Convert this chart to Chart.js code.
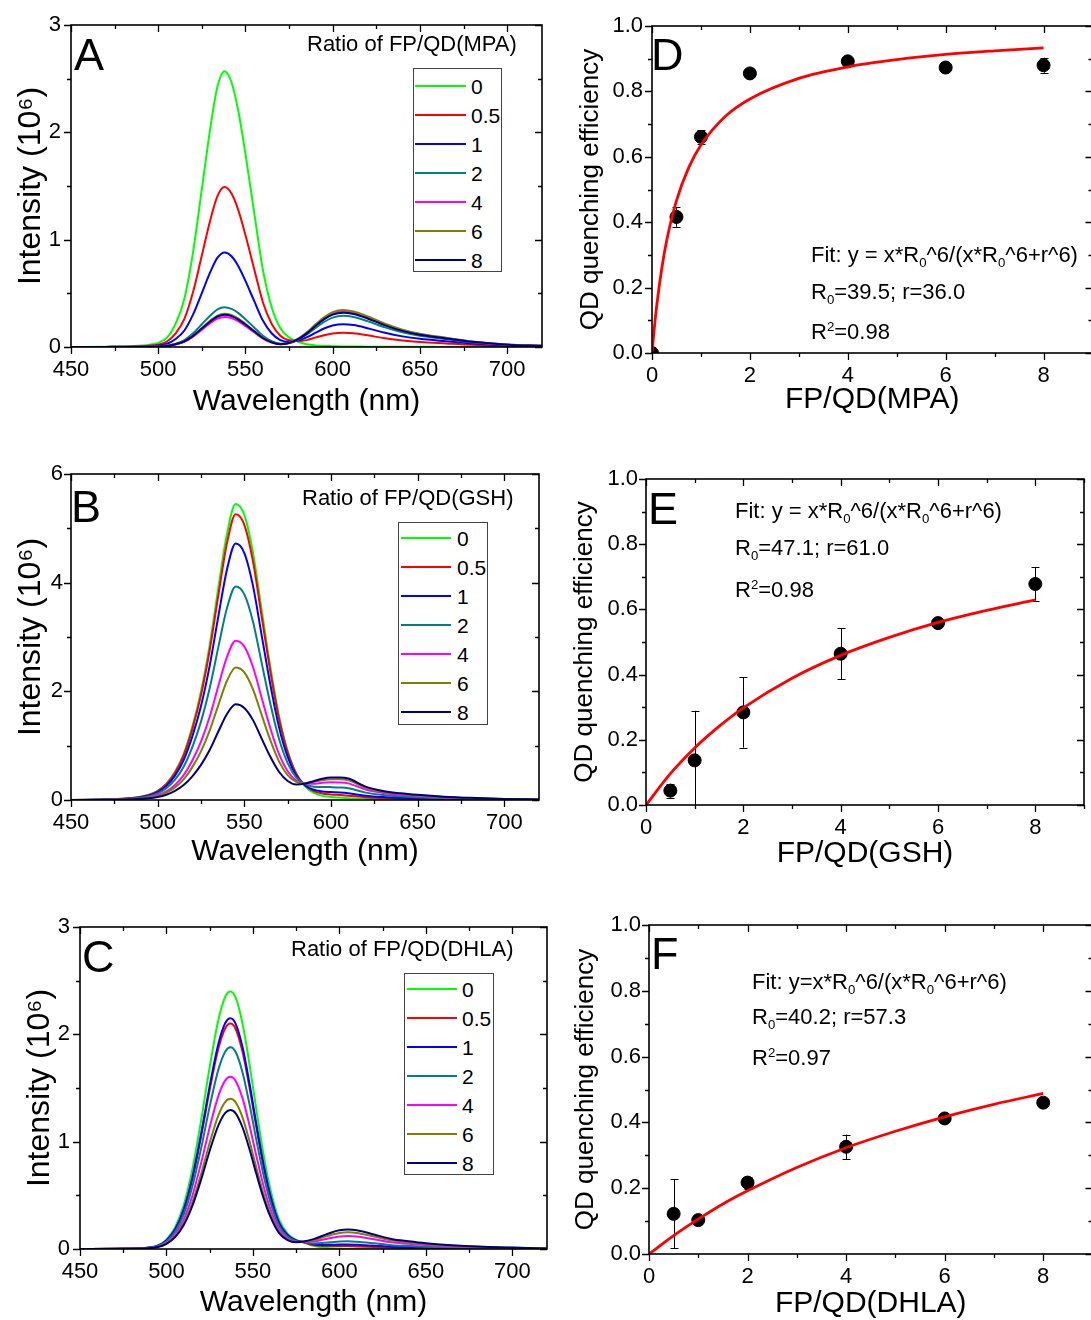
<!DOCTYPE html>
<html><head><meta charset="utf-8">
<script src="https://cdn.jsdelivr.net/npm/chart.js@4.4.1/dist/chart.umd.min.js"></script>
<style>
html,body{margin:0;padding:0;width:1091px;height:1320px;overflow:hidden;background:#fff;font-family:"Liberation Sans",Arial,sans-serif;}
canvas{position:absolute;}
.t{position:absolute;white-space:nowrap;color:#000;line-height:1;font-size:22px;}
.big{font-size:45px;}
.legend{position:absolute;border:1px solid #444;box-sizing:border-box;background:#fff;}
.row{display:flex;align-items:center;height:29px;}
.ln{height:0;border-top:2.5px solid;}
.lb{font-size:21px;line-height:1;}
sub{font-size:0.6em;vertical-align:-0.4em;line-height:0;}
sup{font-size:0.6em;vertical-align:0.6em;line-height:0;}
</style></head><body>
<canvas id="cA" width="560" height="425" style="left:0;top:0"></canvas>
<canvas id="cB" width="560" height="425" style="left:0;top:450px"></canvas>
<canvas id="cC" width="560" height="420" style="left:0;top:900px"></canvas>
<canvas id="cD" width="540" height="425" style="left:560px;top:0"></canvas>
<canvas id="cE" width="540" height="425" style="left:560px;top:450px"></canvas>
<canvas id="cF" width="540" height="420" style="left:560px;top:900px"></canvas>

<div class="t big" style="left:74px;top:32px">A</div>
<div class="t big" style="left:71px;top:484px">B</div>
<div class="t big" style="left:82px;top:934px">C</div>
<div class="t big" style="left:651px;top:32px">D</div>
<div class="t big" style="left:648px;top:486px">E</div>
<div class="t big" style="left:651px;top:931px">F</div>

<div class="t" style="left:307px;top:33px">Ratio of FP/QD(MPA)</div>
<div class="t" style="left:302px;top:487px">Ratio of FP/QD(GSH)</div>
<div class="t" style="left:291px;top:938px">Ratio of FP/QD(DHLA)</div>

<div class="t" style="left:811px;top:244px">Fit: y = x*R<sub>0</sub>^6/(x*R<sub>0</sub>^6+r^6)</div>
<div class="t" style="left:811px;top:281px">R<sub>0</sub>=39.5; r=36.0</div>
<div class="t" style="left:811px;top:321px">R<sup>2</sup>=0.98</div>

<div class="t" style="left:735px;top:500px">Fit: y = x*R<sub>0</sub>^6/(x*R<sub>0</sub>^6+r^6)</div>
<div class="t" style="left:735px;top:537px">R<sub>0</sub>=47.1; r=61.0</div>
<div class="t" style="left:735px;top:579px">R<sup>2</sup>=0.98</div>

<div class="t" style="left:752px;top:971px">Fit: y=x*R<sub>0</sub>^6/(x*R<sub>0</sub>^6+r^6)</div>
<div class="t" style="left:752px;top:1006px">R<sub>0</sub>=40.2; r=57.3</div>
<div class="t" style="left:752px;top:1047px">R<sup>2</sup>=0.97</div>

<script>
// ---------- data ----------
const ratioLabels = ['0', '0.5', '1', '2', '4', '6', '8'];
const lineColors = ['#00ff00', '#ff0000', '#0000ff', '#008080', '#ff00ff', '#808000', '#000080'];

// Panel A: QD(MPA) spectra
const wlA = [450,470,485,495,500,505,510,515,520,525,530,534,538,542,546,550,555,560,565,570,575,580,585,590,595,600,606,612,620,630,640,650,665,680,700,720];
const mpa0  = [0,0.003,0.008,0.021,0.039,0.087,0.218,0.45,0.887,1.47,2.056,2.429,2.57,2.467,2.192,1.799,1.254,0.72,0.373,0.175,0.09,0.051,0.026,0.015,0.01,0.008,0.005,0.005,0.003,0.003,0.002,0.002,0.001,0.001,0,0];
const mpa05 = [0,0.001,0.004,0.012,0.022,0.051,0.127,0.261,0.514,0.852,1.192,1.408,1.49,1.43,1.271,1.043,0.727,0.417,0.216,0.104,0.062,0.056,0.064,0.087,0.11,0.126,0.133,0.128,0.109,0.082,0.061,0.047,0.033,0.02,0.009,0.005];
const mpa1  = [0,0.001,0.003,0.007,0.013,0.03,0.075,0.154,0.304,0.503,0.704,0.832,0.88,0.845,0.751,0.616,0.429,0.246,0.128,0.064,0.048,0.06,0.089,0.131,0.172,0.2,0.212,0.204,0.175,0.132,0.099,0.076,0.053,0.032,0.015,0.007];
const mpa2  = [0,0,0.001,0.003,0.006,0.013,0.031,0.065,0.128,0.212,0.296,0.35,0.37,0.355,0.316,0.259,0.181,0.104,0.054,0.031,0.036,0.065,0.114,0.176,0.233,0.274,0.29,0.279,0.241,0.183,0.136,0.104,0.073,0.044,0.02,0.01];
const mpa4  = [0,0,0.001,0.002,0.004,0.01,0.024,0.049,0.097,0.16,0.224,0.265,0.28,0.269,0.239,0.196,0.137,0.078,0.041,0.026,0.036,0.072,0.128,0.2,0.265,0.311,0.33,0.317,0.274,0.208,0.155,0.119,0.083,0.05,0.023,0.012];
const mpa6  = [0,0,0.001,0.002,0.005,0.011,0.026,0.054,0.107,0.177,0.248,0.293,0.31,0.298,0.264,0.217,0.151,0.087,0.045,0.028,0.039,0.075,0.134,0.209,0.277,0.325,0.345,0.331,0.286,0.217,0.162,0.124,0.086,0.052,0.024,0.012];
const mpa8  = [0,0,0.001,0.002,0.005,0.01,0.026,0.053,0.104,0.172,0.24,0.284,0.3,0.288,0.256,0.21,0.146,0.084,0.044,0.026,0.037,0.07,0.125,0.194,0.257,0.302,0.32,0.307,0.266,0.202,0.15,0.115,0.08,0.048,0.022,0.011];

// Panel B: QD(GSH) spectra
const wlB = [450,470,485,495,500,505,510,515,520,525,530,535,540,545,550,555,560,565,570,575,580,585,590,595,600,605,610,620,630,640,650,665,680,700,720];
const gsh0  = [0,0.011,0.038,0.098,0.169,0.3,0.518,0.85,1.352,2.0,2.85,3.902,4.9,5.45,5.248,4.551,3.499,2.453,1.548,0.899,0.48,0.251,0.131,0.076,0.055,0.044,0.033,0.022,0.016,0.011,0.008,0.005,0.002,0.001,0];
const gsh05 = [0,0.011,0.037,0.095,0.163,0.289,0.5,0.821,1.304,1.93,2.751,3.766,4.729,5.26,5.065,4.392,3.377,2.368,1.497,0.876,0.48,0.27,0.164,0.12,0.103,0.092,0.08,0.051,0.036,0.026,0.02,0.013,0.005,0.003,0.001];
const gsh1  = [0,0.009,0.033,0.085,0.146,0.26,0.448,0.736,1.171,1.732,2.469,3.38,4.243,4.72,4.545,3.941,3.03,2.125,1.345,0.794,0.448,0.272,0.189,0.158,0.146,0.138,0.124,0.079,0.054,0.039,0.03,0.02,0.01,0.005,0.003];
const gsh2  = [0,0.008,0.028,0.071,0.122,0.216,0.373,0.613,0.975,1.442,2.055,2.814,3.533,3.93,3.785,3.282,2.523,1.771,1.126,0.678,0.412,0.291,0.246,0.239,0.237,0.231,0.216,0.136,0.092,0.068,0.052,0.034,0.02,0.01,0.005];
const gsh4  = [0,0.006,0.021,0.053,0.091,0.161,0.278,0.457,0.727,1.075,1.532,2.098,2.634,2.93,2.822,2.447,1.881,1.322,0.847,0.528,0.357,0.3,0.298,0.317,0.326,0.323,0.306,0.192,0.129,0.096,0.073,0.048,0.03,0.015,0.008];
const gsh6  = [0,0.005,0.017,0.044,0.076,0.134,0.232,0.381,0.605,0.895,1.276,1.747,2.194,2.44,2.35,2.037,1.566,1.102,0.711,0.457,0.334,0.31,0.333,0.365,0.38,0.38,0.361,0.226,0.151,0.113,0.087,0.056,0.036,0.018,0.009];
const gsh8  = [0,0.004,0.012,0.032,0.055,0.097,0.167,0.275,0.436,0.646,0.92,1.26,1.582,1.76,1.695,1.47,1.13,0.796,0.52,0.35,0.287,0.301,0.346,0.393,0.414,0.414,0.395,0.247,0.165,0.124,0.095,0.062,0.04,0.02,0.01];

// Panel C: QD(DHLA) spectra
const wlC = [450,470,485,495,500,505,510,515,520,525,530,534,537,540,544,548,552,556,560,565,570,575,580,585,590,595,600,605,610,620,630,640,650,665,680,700,720];
const dhla0  = [0,0.002,0.007,0.034,0.089,0.204,0.413,0.746,1.195,1.697,2.134,2.35,2.4,2.342,2.098,1.721,1.294,0.89,0.562,0.278,0.144,0.084,0.06,0.029,0.014,0.007,0.005,0.002,0,0,0,0,0,0,0,0,0];
const dhla05 = [0,0.002,0.006,0.029,0.078,0.179,0.361,0.653,1.046,1.485,1.867,2.056,2.1,2.05,1.835,1.506,1.132,0.779,0.491,0.244,0.127,0.077,0.059,0.036,0.029,0.027,0.028,0.027,0.024,0.019,0.013,0.01,0.008,0.005,0.003,0.002,0.001];
const dhla1  = [0,0.002,0.006,0.03,0.08,0.183,0.37,0.669,1.071,1.52,1.911,2.105,2.15,2.098,1.879,1.542,1.159,0.798,0.503,0.249,0.13,0.079,0.063,0.043,0.038,0.039,0.042,0.042,0.039,0.03,0.021,0.016,0.012,0.008,0.005,0.003,0.001];
const dhla2  = [0,0.002,0.006,0.026,0.07,0.16,0.323,0.585,0.936,1.329,1.671,1.841,1.88,1.835,1.643,1.348,1.013,0.697,0.44,0.218,0.115,0.073,0.062,0.052,0.055,0.063,0.071,0.072,0.068,0.053,0.036,0.028,0.021,0.014,0.009,0.005,0.002];
const dhla4  = [0,0.002,0.005,0.022,0.059,0.136,0.276,0.499,0.799,1.135,1.427,1.571,1.605,1.566,1.403,1.151,0.865,0.595,0.376,0.186,0.1,0.068,0.066,0.069,0.086,0.103,0.117,0.122,0.116,0.09,0.062,0.048,0.036,0.024,0.016,0.008,0.004];
const dhla6  = [0,0.001,0.004,0.02,0.052,0.119,0.241,0.435,0.697,0.99,1.245,1.371,1.4,1.366,1.224,1.004,0.755,0.519,0.328,0.162,0.089,0.065,0.069,0.082,0.106,0.131,0.15,0.156,0.15,0.116,0.081,0.062,0.047,0.031,0.02,0.011,0.005];
const dhla8  = [0,0.001,0.004,0.018,0.048,0.11,0.223,0.403,0.645,0.916,1.151,1.268,1.295,1.264,1.132,0.929,0.698,0.48,0.303,0.15,0.083,0.063,0.072,0.092,0.121,0.152,0.174,0.181,0.175,0.135,0.094,0.072,0.054,0.036,0.023,0.013,0.005];

// Panels D-F: quenching efficiency vs FP/QD ratio
const mpaRatio = [0, 0.5, 1, 2, 4, 6, 8];
const mpaEff   = [0, 0.416, 0.661, 0.855, 0.892, 0.873, 0.880];
const mpaErr   = [0, 0.030, 0.021, 0, 0, 0, 0.023];
const mpaFitX  = [0, 0.05, 0.1, 0.2, 0.3, 0.5, 0.75, 1, 1.5, 2, 3, 4, 5, 6, 7, 8];
const mpaFitY  = [0, 0.08, 0.149, 0.259, 0.344, 0.466, 0.567, 0.636, 0.724, 0.777, 0.84, 0.875, 0.897, 0.913, 0.924, 0.933];

const gshRatio = [0.5, 1, 2, 4, 6, 8];
const gshEff   = [0.044, 0.137, 0.284, 0.464, 0.558, 0.678];
const gshErr   = [0.021, 0.152, 0.108, 0.079, 0.005, 0.051];
const gshFitX  = [0, 0.5, 1, 1.5, 2, 3, 4, 5, 6, 7, 8];
const gshFitY  = [0, 0.096, 0.175, 0.241, 0.298, 0.389, 0.459, 0.514, 0.56, 0.597, 0.629];

const dhlaRatio = [0.5, 1, 2, 4, 6, 8];
const dhlaEff   = [0.122, 0.103, 0.217, 0.326, 0.412, 0.46];
const dhlaErr   = [0.105, 0.008, 0.018, 0.037, 0.006, 0.006];
const dhlaFitX  = [0, 0.5, 1, 1.5, 2, 3, 4, 5, 6, 7, 8];
const dhlaFitY  = [0, 0.056, 0.106, 0.152, 0.192, 0.263, 0.323, 0.373, 0.417, 0.455, 0.488];

// ---------- rendering ----------
Chart.defaults.font.family = '"Liberation Sans", Arial, sans-serif';
Chart.defaults.color = '#000';

const framePlugin = {
  id: 'frame',
  afterDatasetsDraw(chart, args, o) {
    const {ctx, chartArea: a, scales: {x, y}} = chart;
    ctx.save();
    ctx.strokeStyle = '#000';
    ctx.lineWidth = 1.3;
    ctx.beginPath();
    const nx = Math.floor((x.max - x.min) / o.xMinor + 1e-6);
    for (let i = 0; i <= nx; i++) {
      const v = x.min + i * o.xMinor;
      const r = v / o.xMajor;
      const L = Math.abs(r - Math.round(r)) < 1e-6 ? 7 : 4;
      const p = Math.round(x.getPixelForValue(v)) + 0.5;
      ctx.moveTo(p, a.bottom); ctx.lineTo(p, a.bottom + L);
      ctx.moveTo(p, a.top); ctx.lineTo(p, a.top + L);
    }
    const ny = Math.floor((y.max - y.min) / o.yMinor + 1e-6);
    for (let i = 0; i <= ny; i++) {
      const v = y.min + i * o.yMinor;
      const r = v / o.yMajor;
      const L = Math.abs(r - Math.round(r)) < 1e-6 ? 7 : 4;
      const p = Math.round(y.getPixelForValue(v)) + 0.5;
      ctx.moveTo(a.left, p); ctx.lineTo(a.left - L, p);
      ctx.moveTo(a.right, p); ctx.lineTo(a.right - L, p);
    }
    ctx.stroke();
    ctx.lineWidth = 1.6;
    ctx.strokeRect(a.left, a.top, a.right - a.left, a.bottom - a.top);
    ctx.restore();
  }
};

const errPlugin = {
  id: 'errbars',
  beforeDatasetsDraw(chart, args, o) {
    if (!o || !o.x) return;
    const {ctx, chartArea: a, scales: {x, y}} = chart;
    ctx.save();
    ctx.beginPath();
    ctx.rect(a.left, a.top, a.right - a.left, a.bottom - a.top);
    ctx.clip();
    ctx.strokeStyle = '#000';
    ctx.lineWidth = 1;
    ctx.beginPath();
    o.x.forEach((xv, i) => {
      const e = o.err[i];
      if (!e) return;
      const px = Math.round(x.getPixelForValue(xv)) + 0.5;
      const y1 = y.getPixelForValue(o.y[i] + e), y2 = y.getPixelForValue(o.y[i] - e);
      ctx.moveTo(px, y1); ctx.lineTo(px, y2);
      ctx.moveTo(px - 4, Math.round(y1) + 0.5); ctx.lineTo(px + 4, Math.round(y1) + 0.5);
      ctx.moveTo(px - 4, Math.round(y2) + 0.5); ctx.lineTo(px + 4, Math.round(y2) + 0.5);
    });
    ctx.stroke();
    ctx.restore();
  }
};

function xy(xs, ys) { return xs.map((v, i) => ({x: v, y: ys[i]})); }

function baseOptions(g, xs, ys) {
  return {
    responsive: false, animation: false, events: [],
    layout: {padding: {top: g.padTop, right: g.padRight, left: 0, bottom: 0}},
    plugins: {legend: {display: false}, tooltip: {enabled: false},
      frame: g.frame, errbars: g.err || {}},
    scales: {
      x: Object.assign({type: 'linear', position: 'bottom',
        grid: {display: false, drawTicks: false}, border: {display: false},
        title: {display: true, text: g.xTitle, font: {size: 30, lineHeight: 1}, padding: {top: 0, bottom: g.xTitlePad}},
        afterFit: s => { s.height = g.xH; s.paddingLeft = 0; s.paddingRight = 0; }}, xs),
      y: Object.assign({type: 'linear', position: 'left',
        grid: {display: false, drawTicks: false}, border: {display: false},
        title: {display: true, text: g.yTitle, font: {size: g.yTitleSize, lineHeight: 1}, padding: {top: g.yTitlePad, bottom: 0}},
        afterFit: s => { s.width = g.yW; s.paddingTop = 0; s.paddingBottom = 0; }}, ys)
    }
  };
}

function spectra(id, wl, series, yMax, yStep, yMinor, g) {
  const datasets = series.map((s, i) => ({
    label: ratioLabels[i], data: xy(wl, s), borderColor: lineColors[i],
    borderWidth: 2, pointRadius: 0, cubicInterpolationMode: 'monotone',
    fill: false, order: series.length - i
  }));
  g.xTitle = 'Wavelength (nm)';
  g.yTitle = 'Intensity (10\u2076)';
  g.yTitleSize = 32;
  g.frame = {xMajor: 50, xMinor: 25, yMajor: yStep, yMinor: yMinor};
  const opts = baseOptions(g,
    {min: 450, max: 720, ticks: {stepSize: 50, includeBounds: false, padding: 10, font: {size: 22}, callback: v => String(v)}},
    {min: 0, max: yMax, ticks: {stepSize: yStep, includeBounds: false, padding: g.yTickPad, font: {size: 22}, callback: v => String(v)}});
  new Chart(document.getElementById(id), {type: 'line', data: {datasets}, options: opts, plugins: [framePlugin]});
}

function quench(id, rx, eff, err, fx, fy, xTitle, g) {
  g.xTitle = xTitle;
  g.yTitle = 'QD quenching efficiency';
  g.yTitleSize = 26;
  g.frame = {xMajor: 2, xMinor: 1, yMajor: 0.2, yMinor: 0.1};
  g.err = {x: rx, y: eff, err: err};
  const opts = baseOptions(g,
    {min: 0, max: 9, ticks: {stepSize: 2, includeBounds: false, padding: 10, font: {size: 22}, callback: v => String(v)}},
    {min: 0, max: 1, ticks: {stepSize: 0.2, includeBounds: false, padding: g.yTickPad, font: {size: 22}, callback: v => v.toFixed(1)}});
  const datasets = [
    {type: 'line', label: 'fit', data: xy(fx, fy), borderColor: '#ff0000', borderWidth: 2.8,
     pointRadius: 0, cubicInterpolationMode: 'monotone', fill: false, order: 0, clip: 0},
    {type: 'scatter', label: 'data', data: xy(rx, eff), backgroundColor: '#000', borderColor: '#000',
     pointRadius: 6.5, pointHoverRadius: 6.5, order: 1, clip: 0}
  ];
  new Chart(document.getElementById(id), {type: 'scatter', data: {datasets}, options: opts, plugins: [framePlugin, errPlugin]});
}

spectra('cA', wlA, [mpa0, mpa05, mpa1, mpa2, mpa4, mpa6, mpa8], 3, 1, 0.5,
  {yW: 71, padTop: 25, padRight: 18, xH: 78, xTitlePad: 8, yTitlePad: 15, yTickPad: 10});
spectra('cB', wlB, [gsh0, gsh05, gsh1, gsh2, gsh4, gsh6, gsh8], 6, 2, 1,
  {yW: 71, padTop: 24, padRight: 21, xH: 75, xTitlePad: 8, yTitlePad: 15, yTickPad: 8});
spectra('cC', wlC, [dhla0, dhla05, dhla1, dhla2, dhla4, dhla6, dhla8], 3, 1, 0.5,
  {yW: 80, padTop: 27, padRight: 13, xH: 71, xTitlePad: 2, yTitlePad: 24, yTickPad: 10});

quench('cD', mpaRatio, mpaEff, mpaErr, mpaFitX, mpaFitY, 'FP/QD(MPA)',
  {yW: 92, padTop: 26, padRight: 7, xH: 72, xTitlePad: 10, yTitlePad: 18, yTickPad: 9});
quench('cE', gshRatio, gshEff, gshErr, gshFitX, gshFitY, 'FP/QD(GSH)',
  {yW: 86, padTop: 29, padRight: 16, xH: 70, xTitlePad: 6, yTitlePad: 12, yTickPad: 8});
quench('cF', dhlaRatio, dhlaEff, dhlaErr, dhlaFitX, dhlaFitY, 'FP/QD(DHLA)',
  {yW: 89, padTop: 25, padRight: 1, xH: 66, xTitlePad: 1, yTitlePad: 13, yTickPad: 8});

// legends (HTML, built from the series labels/colours)
function legend(box) {
  const d = document.createElement('div');
  d.className = 'legend';
  d.style.cssText = `left:${box.l}px;top:${box.t}px;width:${box.w}px;height:${box.h}px;padding-top:${box.pt}px`;
  ratioLabels.forEach((lab, i) => {
    const r = document.createElement('div'); r.className = 'row';
    const ln = document.createElement('div'); ln.className = 'ln';
    ln.style.cssText = `border-color:${lineColors[i]};width:${box.lw}px;margin-left:${box.lm}px`;
    const lb = document.createElement('div'); lb.className = 'lb'; lb.textContent = lab;
    lb.style.marginLeft = box.gap + 'px';
    r.appendChild(ln); r.appendChild(lb); d.appendChild(r);
  });
  document.body.appendChild(d);
}
legend({l: 412.5, t: 68, w: 89, h: 204, pt: 2.5, lw: 51, lm: 1.5, gap: 5});
legend({l: 397.5, t: 522, w: 90, h: 203, pt: 0.5, lw: 50, lm: 2.5, gap: 6});
legend({l: 403.5, t: 973, w: 90.5, h: 202, pt: 0.5, lw: 50, lm: 2.5, gap: 5});
</script>
</body></html>
